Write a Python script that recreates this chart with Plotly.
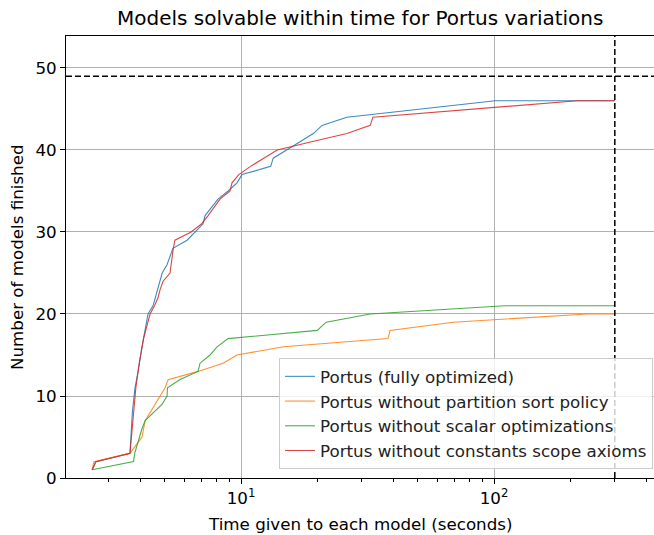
import plotly.graph_objects as go

# ---- data ----
full_x = [2.58, 2.67, 3.64, 3.72, 3.81, 3.92, 4.06, 4.29, 4.49, 4.79, 4.88, 5.10, 5.38, 6.12, 6.58,
          7.08, 7.21, 8.11, 8.89, 9.64, 10.09, 13.1, 13.4, 15.2, 17.1, 19.3, 20.9, 26.2, 51, 101, 300]
full_y = [1, 2, 3, 8, 11, 13, 16, 20, 21, 24, 25, 26, 28, 29, 30,
          31, 32, 34, 35, 36, 37, 38, 39, 40, 41, 42, 43, 44, 45, 46, 46]

nosort_x = [2.58, 2.62, 3.64, 3.85, 4.06, 4.18, 4.37, 4.6, 4.79, 5.01, 5.15, 6.76, 8.49, 9.64,
            14.7, 38.1, 38.8, 68.9, 233, 300]
nosort_y = [1, 2, 3, 4, 5, 7, 8, 9, 10, 11, 12, 13, 14, 15,
            16, 17, 18, 19, 20, 20]

noscalar_x = [2.58, 3.76, 3.80, 3.88, 3.95, 4.06, 4.18, 4.5, 4.88, 5.10, 5.12, 5.74, 6.76, 6.89,
              7.54, 8.04, 8.89, 20.0, 21.7, 32.4, 110, 300]
noscalar_y = [1, 2, 3, 4, 5, 6, 7, 8, 9, 10, 11, 12, 13, 14,
              15, 16, 17, 18, 19, 20, 21, 21]

noconst_x = [2.58, 2.67, 3.64, 3.75, 3.84, 3.96, 4.12, 4.37, 4.55, 4.70, 4.79, 4.92, 5.24, 5.40,
             5.48, 6.35, 6.99, 7.41, 7.8, 8.26, 9.05, 9.21, 9.8, 10.9, 12.3, 13.9, 19.0, 26.2,
             32.4, 33.2, 213, 300]
noconst_y = [1, 2, 3, 8, 11, 14, 17, 20, 21, 22, 23, 24, 25, 28,
             29, 30, 31, 32, 33, 34, 35, 36, 37, 38, 39, 40, 41, 42,
             43, 44, 46, 46]

series_names = ["Portus (fully optimized)",
                "Portus without partition sort policy",
                "Portus without scalar optimizations",
                "Portus without constants scope axioms"]
time_limit = 300
total_models = 49
y_ticks = [0, 10, 20, 30, 40, 50]
x_tickvals = [10, 100]
x_ticktext = ["10<sup>1</sup>", "10<sup>2</sup>"]
x_minor = [3, 4, 5, 6, 7, 8, 9, 20, 30, 40, 50, 60, 70, 80, 90, 200, 300, 400]

colors = ["#1f77b4", "#ff7f0e", "#2ca02c", "#d62728"]
FONT = "DejaVu Sans"
FS = 16.7
FS_TITLE = 20

fig = go.Figure()
for i, (xs, ys) in enumerate([(full_x, full_y), (nosort_x, nosort_y),
                               (noscalar_x, noscalar_y), (noconst_x, noconst_y)]):
    fig.add_trace(go.Scatter(x=xs, y=ys, mode="lines", name=series_names[i],
                             line=dict(color=colors[i], width=1.1), opacity=0.85,
                             legendgroup=f"g{i}"))

# dashed reference lines
fig.add_shape(type="line", xref="x", yref="paper", x0=time_limit, x1=time_limit, y0=0, y1=1,
              line=dict(color="black", width=1.5, dash="6px,3px"), layer="above")
fig.add_shape(type="line", xref="paper", yref="y", x0=0, x1=1, y0=total_models, y1=total_models,
              line=dict(color="black", width=1.5, dash="6px,3px"), layer="above")

W, H = 654, 535
L, R, T, B = 66, 0, 36, 57
pw, ph = W - L - R, H - T - B

fig.update_layout(
    width=W, height=H,
    margin=dict(l=L, r=R, t=T, b=B, pad=0),
    paper_bgcolor="white", plot_bgcolor="white",
    font=dict(family=FONT, size=FS, color="#000000"),
    showlegend=True,
    legend=dict(x=(279 - L) / pw, y=(478 - 469) / ph, xanchor="left", yanchor="bottom",
                bgcolor="rgba(255,255,255,0.8)", bordercolor="#cccccc", borderwidth=1,
                font=dict(family=FONT, size=FS, color="#222222"),
                tracegroupgap=0, traceorder="grouped"),
    xaxis=dict(type="log", range=[0.3083, 2.632], showline=True, linecolor="black", linewidth=1,
               mirror=True, ticks="outside", ticklen=5, tickwidth=1, tickcolor="black",
               tickvals=x_tickvals, ticktext=x_ticktext,
               showgrid=True, gridcolor="#b0b0b0", gridwidth=1, zeroline=False,
               minor=dict(tickvals=x_minor, ticks="outside", ticklen=3, tickwidth=0.8,
                          tickcolor="black", showgrid=False),
               tickfont=dict(size=FS)),
    yaxis=dict(range=[0, 53.9], showline=True, linecolor="black", linewidth=1, mirror=True,
               ticks="outside", ticklen=5, tickwidth=1, tickcolor="black",
               tickvals=y_ticks, showgrid=True, gridcolor="#b0b0b0", gridwidth=1,
               zeroline=False, tickfont=dict(size=FS)),
)

fig.add_annotation(text="Models solvable within time for Portus variations",
                   xref="paper", yref="paper", x=(360 - L) / pw, y=(478 - 18) / ph,
                   xanchor="center", yanchor="middle", showarrow=False,
                   font=dict(family=FONT, size=FS_TITLE, color="#000000"))
fig.add_annotation(text="Time given to each model (seconds)",
                   xref="paper", yref="paper", x=(360 - L) / pw, y=(478 - 524) / ph,
                   xanchor="center", yanchor="middle", showarrow=False,
                   font=dict(family=FONT, size=FS, color="#000000"))
fig.add_annotation(text="Number of models finished", textangle=-90,
                   xref="paper", yref="paper", x=(17 - L) / pw, y=0.5,
                   xanchor="center", yanchor="middle", showarrow=False,
                   font=dict(family=FONT, size=FS, color="#000000"))

fig.write_html("out.html", config={"displayModeBar": False},
               post_script="document.body.style.margin='0px';document.body.style.padding='0px';")
